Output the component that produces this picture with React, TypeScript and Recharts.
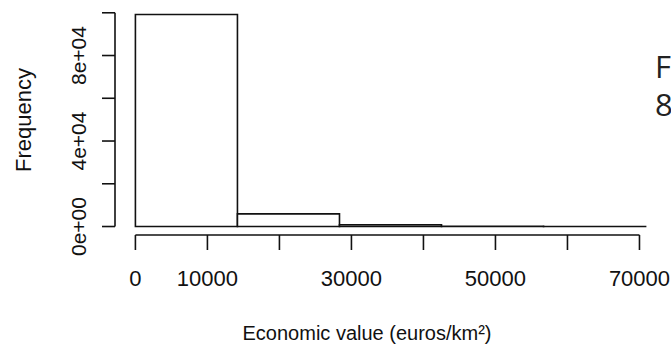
import React from 'react';
import { ComposedChart, XAxis, YAxis, ReferenceArea, ReferenceLine, Line } from 'recharts';

// Histogram bin edges (euros/km²) and frequencies
const binBreaks = [0, 14170, 28340, 42510, 56680, 70850];
const binCounts = [99200, 5900, 800, 60, 10];

// Axis ticks and the labels R printed
const xTicks = [0, 10000, 20000, 30000, 40000, 50000, 60000, 70000];
const xLabelled = [0, 10000, 30000, 50000, 70000];
const yTicks = [0, 20000, 40000, 60000, 80000, 100000];
const yLabelled = [0, 40000, 80000];
const yLabelText = ['0e+00', '4e+04', '8e+04'];

const xTitle = 'Economic value (euros/km²)';
const yTitle = 'Frequency';
const sideLines = ['F', '8'];

const bins = binCounts.map((c, i) => ({
  x0: binBreaks[i],
  x1: binBreaks[i + 1],
  mid: (binBreaks[i] + binBreaks[i + 1]) / 2,
  count: c,
}));

const xMax = binBreaks[binBreaks.length - 1];
const yMax = Math.max(...binCounts);
const xDomain: [number, number] = [-0.04 * xMax, xMax * 1.04];
const yDomain: [number, number] = [-0.04 * yMax, yMax * 1.04];

const INK = '#111';
const FONT = '"Liberation Sans", Arial, sans-serif';

const XTick = (props: any) => {
  const { x, payload } = props;
  if (!xLabelled.includes(payload.value)) return null;
  return (
    <text x={x} y={286} textAnchor="middle" fontFamily={FONT} fontSize={22} fill={INK}>
      {String(payload.value)}
    </text>
  );
};

const YTick = (props: any) => {
  const { y, payload } = props;
  const idx = yLabelled.indexOf(payload.value);
  if (idx < 0) return null;
  return (
    <text
      x={86}
      y={y}
      transform={`rotate(-90, 86, ${y})`}
      textAnchor="middle"
      fontFamily={FONT}
      fontSize={21}
      fill={INK}
    >
      {yLabelText[idx]}
    </text>
  );
};

const XTitle = () => (
  <text x={367} y={340} textAnchor="middle" fontFamily={FONT} fontSize={20} fill={INK}>
    {xTitle}
  </text>
);

const YTitle = () => (
  <text
    x={31}
    y={120}
    transform="rotate(-90, 31, 120)"
    textAnchor="middle"
    fontFamily={FONT}
    fontSize={22}
    fill={INK}
  >
    {yTitle}
  </text>
);

export default function App() {
  return (
    <div
      style={{
        position: 'absolute',
        left: 0,
        top: 0,
        width: 671,
        height: 347,
        overflow: 'hidden',
        background: '#fff',
      }}
    >
      <ComposedChart
        width={671}
        height={347}
        data={bins}
        margin={{ top: 6, right: 5, bottom: 0, left: 0 }}
      >
        <XAxis
          type="number"
          dataKey="mid"
          domain={xDomain}
          ticks={xTicks}
          interval={0}
          allowDataOverflow
          height={112}
          axisLine={false}
          tickLine={{ stroke: INK, strokeWidth: 1.6 }}
          tickSize={15}
          tick={<XTick />}
          label={<XTitle />}
        />
        <YAxis
          type="number"
          domain={yDomain}
          ticks={yTicks}
          interval={0}
          allowDataOverflow
          width={115}
          axisLine={false}
          tickLine={{ stroke: INK, strokeWidth: 1.6 }}
          tickSize={13}
          tick={<YTick />}
          label={<YTitle />}
        />
        <Line dataKey="count" stroke="none" dot={false} activeDot={false} isAnimationActive={false} />
        {bins.map((b, i) => (
          <ReferenceArea
            key={i}
            x1={b.x0}
            x2={b.x1}
            y1={0}
            y2={b.count}
            fill="#fff"
            fillOpacity={1}
            stroke={INK}
            strokeWidth={1.6}
            ifOverflow="visible"
          />
        ))}
        <ReferenceLine
          segment={[
            { x: xTicks[0], y: yDomain[0] },
            { x: xTicks[xTicks.length - 1], y: yDomain[0] },
          ]}
          stroke={INK}
          strokeWidth={1.6}
          ifOverflow="visible"
        />
        <ReferenceLine
          segment={[
            { x: xDomain[0], y: yTicks[0] },
            { x: xDomain[0], y: yTicks[yTicks.length - 1] },
          ]}
          stroke={INK}
          strokeWidth={1.6}
          ifOverflow="visible"
        />
      </ComposedChart>
      <svg
        width={671}
        height={347}
        style={{ position: 'absolute', left: 0, top: 0, pointerEvents: 'none' }}
      >
        {sideLines.map((t, i) => (
          <text
            key={i}
            x={655}
            y={78 + i * 38}
            fontFamily='"Open Sans", "Noto Sans", sans-serif'
            fontSize={31}
            fill="#222"
          >
            {t}
          </text>
        ))}
      </svg>
    </div>
  );
}
